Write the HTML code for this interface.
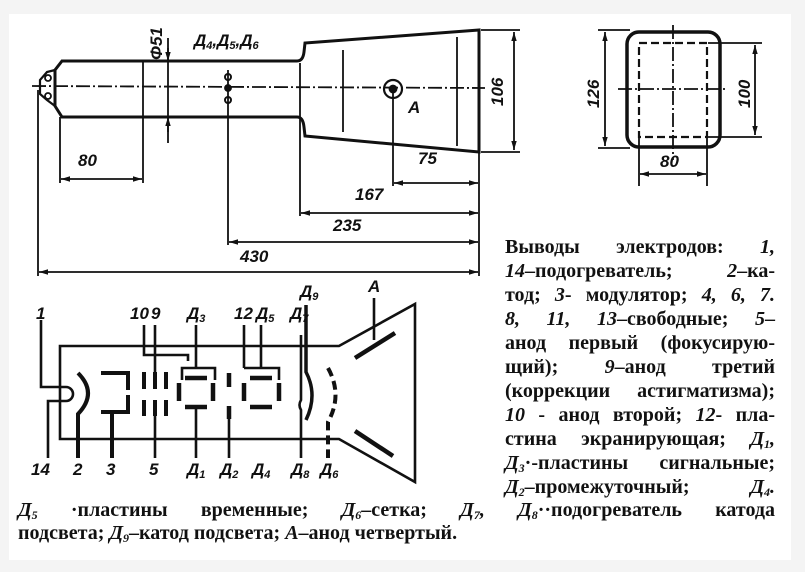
<!DOCTYPE html>
<html><head><meta charset="utf-8"><style>
html,body{margin:0;padding:0;}
body{width:805px;height:572px;background:#f4f4f4;position:relative;overflow:hidden;font-family:"Liberation Serif",serif;}
#panel{position:absolute;left:9px;top:14px;width:782px;height:546px;background:#fff;}
svg{position:absolute;left:0;top:0;}
.t{position:absolute;font-size:20px;font-weight:bold;color:#111;white-space:nowrap;text-align:justify;text-align-last:justify;line-height:24px;height:24px;}
.t i{font-weight:bold;}
.t sub{font-size:12px;line-height:0;vertical-align:-3px;}
.lbl{font-family:"Liberation Sans",sans-serif;font-style:italic;font-weight:bold;font-size:17px;fill:#111;}
</style></head><body>
<div id="panel"></div>
<svg width="805" height="572" viewBox="0 0 805 572">
<defs>
<marker id="ar" viewBox="0 0 10 10" refX="10" refY="5" markerWidth="7" markerHeight="5" orient="auto-start-reverse"><path d="M0,2 L10,5 L0,8 z" fill="#111"/></marker>
</defs>
<g stroke="#111" fill="none" stroke-width="1.8">
<path d="M62,61 L297,61 Q303,61 304,52 L305,43 L479,30 L479,152 L305,136 L304,127 Q303,117 297,117 L62,117 L55,106 L55,70 Z" stroke-width="3"/>
<path d="M55,70 L47,72 L40,80 L40,94 L47,100 L55,106" stroke-width="2.2"/>
<circle cx="48" cy="78" r="3" stroke-width="1.8"/><circle cx="48" cy="96" r="3" stroke-width="1.8"/>
<line x1="32" y1="86" x2="485" y2="88" stroke-dasharray="14,3,2,3"/>
<line x1="143" y1="61" x2="143" y2="183"/>
<line x1="168" y1="38" x2="168" y2="143"/>
<line x1="168" y1="48" x2="168" y2="61" marker-end="url(#ar)"/>
<line x1="168" y1="132" x2="168" y2="117" marker-end="url(#ar)"/>
<line x1="228" y1="70" x2="228" y2="245"/>
<line x1="300" y1="63" x2="300" y2="216"/>
<line x1="343" y1="50" x2="343" y2="132"/>
<line x1="457" y1="37" x2="457" y2="146"/>
<line x1="393" y1="89" x2="393" y2="186"/>
<line x1="38" y1="90" x2="38" y2="276"/>
<line x1="479" y1="152" x2="479" y2="276"/>
<line x1="60" y1="117" x2="60" y2="183"/>
<line x1="481" y1="30" x2="520" y2="30"/><line x1="481" y1="152" x2="520" y2="152"/>
<line x1="514" y1="32" x2="514" y2="150" marker-start="url(#ar)" marker-end="url(#ar)"/>
<line x1="61" y1="179" x2="142" y2="179" marker-start="url(#ar)" marker-end="url(#ar)"/>
<line x1="394" y1="183" x2="478" y2="183" marker-start="url(#ar)" marker-end="url(#ar)"/>
<line x1="301" y1="213" x2="478" y2="213" marker-start="url(#ar)" marker-end="url(#ar)"/>
<line x1="229" y1="242" x2="478" y2="242" marker-start="url(#ar)" marker-end="url(#ar)"/>
<line x1="39" y1="272" x2="478" y2="272" marker-start="url(#ar)" marker-end="url(#ar)"/>
<circle cx="393" cy="89" r="9" stroke-width="2.2"/>
<circle cx="393" cy="89" r="3.5" fill="#111"/>
<circle cx="228" cy="77" r="3" stroke-width="2"/><circle cx="228" cy="88" r="3" fill="#111"/><circle cx="228" cy="100" r="3" stroke-width="2"/>
<rect x="627" y="32" width="93" height="115" rx="12" stroke-width="3.5"/>
<rect x="639" y="43" width="68" height="94" stroke-dasharray="8,4" stroke-width="2.2"/>
<line x1="673" y1="25" x2="673" y2="160" stroke-dasharray="14,3,2,3"/>
<line x1="618" y1="89" x2="726" y2="89" stroke-dasharray="14,3,2,3"/>
<line x1="598" y1="30" x2="630" y2="30"/><line x1="598" y1="148" x2="630" y2="148"/>
<line x1="605" y1="32" x2="605" y2="146" marker-start="url(#ar)" marker-end="url(#ar)"/>
<line x1="708" y1="43" x2="762" y2="43"/><line x1="708" y1="137" x2="762" y2="137"/>
<line x1="755" y1="45" x2="755" y2="135" marker-start="url(#ar)" marker-end="url(#ar)"/>
<line x1="639" y1="137" x2="639" y2="186"/><line x1="707" y1="137" x2="707" y2="186"/>
<line x1="640" y1="174" x2="706" y2="174" marker-start="url(#ar)" marker-end="url(#ar)"/>
<g stroke-width="2.6">
<path d="M60,346 L339,346 L415,304 L415,482 L339,439 L60,439 Z"/>
<path d="M41,320 V387 H66 A7,7 0 0 1 66,401 H48 V458"/>
<path d="M78,373 Q98,393 78,414 V458" stroke-width="4"/>
<path d="M101,373 H128 V390 M128,395 V412 H101 M112,412 V458" stroke-width="4"/>
<path d="M144,372 V389 M144,400 V416 M155,372 V389 M155,400 V416 M166,372 V389 M166,400 V416" stroke-width="4"/>
<path d="M144,325 V355 H188 V361 M155,325 V372 M155,416 V458"/>
<path d="M196,325 V368 M182,380 V368 H215 V380 M196,407 V458 M229,407 V458 M261,325 V368 M244,325 V368 M244,368 H279 V380"/>
<path d="M185,378 H207 M185,407 H207 M179,383 V401 M213,383 V401 M229,373 V387 M229,406 V419 M250,378 H272 M250,407 H272 M244,383 V401 M279,383 V401" stroke-width="4.5"/>
<path d="M301,335 V400 Q298,405 301,410 V458"/>
<path d="M306,305 V372 Q318,395 306,420" stroke-width="3.5"/>
<path d="M328,368 Q343,395 328,422 V458" stroke-width="4" stroke-dasharray="9,5"/>
<path d="M374,298 V340"/>
<path d="M355,358 L395,333 M355,431 L393,456" stroke-width="4.5"/>
</g>
</g>
<g class="lbl" fill="#111" stroke="none">
<text x="78" y="166">80</text><text x="418" y="164">75</text><text x="355" y="200">167</text><text x="333" y="231">235</text><text x="240" y="262">430</text>
<text x="408" y="113">A</text>
<text x="194" y="46">Д<tspan font-size="11" dy="3">4</tspan><tspan dy="-3">,Д</tspan><tspan font-size="11" dy="3">5</tspan><tspan dy="-3">,Д</tspan><tspan font-size="11" dy="3">6</tspan></text>
<text transform="translate(162,60) rotate(-90)">Φ51</text>
<text transform="translate(503,106) rotate(-90)">106</text>
<text transform="translate(599,108) rotate(-90)">126</text>
<text transform="translate(750,108) rotate(-90)">100</text>
<text x="660" y="167">80</text>
<text x="36" y="319">1</text><text x="130" y="319">10</text><text x="151" y="319">9</text>
<text x="187" y="319">Д<tspan font-size="11" dy="3">3</tspan></text>
<text x="234" y="319">12</text>
<text x="256" y="319">Д<tspan font-size="11" dy="3">5</tspan></text>
<text x="290" y="319">Д<tspan font-size="11" dy="3">7</tspan></text>
<text x="300" y="297">Д<tspan font-size="11" dy="3">9</tspan></text>
<text x="368" y="292">A</text>
<text x="31" y="475">14</text><text x="73" y="475">2</text><text x="106" y="475">3</text><text x="149" y="475">5</text>
<text x="187" y="475">Д<tspan font-size="11" dy="3">1</tspan></text>
<text x="220" y="475">Д<tspan font-size="11" dy="3">2</tspan></text>
<text x="252" y="475">Д<tspan font-size="11" dy="3">4</tspan></text>
<text x="291" y="475">Д<tspan font-size="11" dy="3">8</tspan></text>
<text x="320" y="475">Д<tspan font-size="11" dy="3">6</tspan></text>
</g>
</svg>
<div class="t" style="left:505px;top:235px;width:270px">Выводы электродов: <i>1,</i></div>
<div class="t" style="left:505px;top:259px;width:270px"><i>14</i>–подогреватель; <i>2</i>–ка-</div>
<div class="t" style="left:505px;top:283px;width:270px">тод; <i>3</i>- модулятор; <i>4, 6, 7.</i></div>
<div class="t" style="left:505px;top:307px;width:270px"><i>8, 11, 13</i>–свободные; <i>5</i>–</div>
<div class="t" style="left:505px;top:331px;width:270px">анод первый (фокусирую-</div>
<div class="t" style="left:505px;top:355px;width:270px">щий); <i>9</i>–анод третий</div>
<div class="t" style="left:505px;top:379px;width:270px">(коррекции астигматизма);</div>
<div class="t" style="left:505px;top:403px;width:270px"><i>10</i> - анод второй; <i>12</i>- пла-</div>
<div class="t" style="left:505px;top:427px;width:270px">стина экранирующая; <i>Д<sub>1</sub>,</i></div>
<div class="t" style="left:505px;top:451px;width:270px"><i>Д<sub>3</sub></i>·-пластины сигнальные;</div>
<div class="t" style="left:505px;top:475px;width:270px"><i>Д<sub>2</sub></i>–промежуточный; <i>Д<sub>4</sub>.</i></div>
<div class="t" style="left:18px;top:498px;width:757px"><i>Д<sub>5</sub></i> ·пластины временные; <i>Д<sub>6</sub></i>–сетка; <i>Д<sub>7</sub>, Д<sub>8</sub></i>··подогреватель катода</div>
<div class="t" style="left:18px;top:521px;text-align-last:left">подсвета; <i>Д<sub>9</sub></i>–катод подсвета; <i>A</i>–анод четвертый.</div>
</body></html>
